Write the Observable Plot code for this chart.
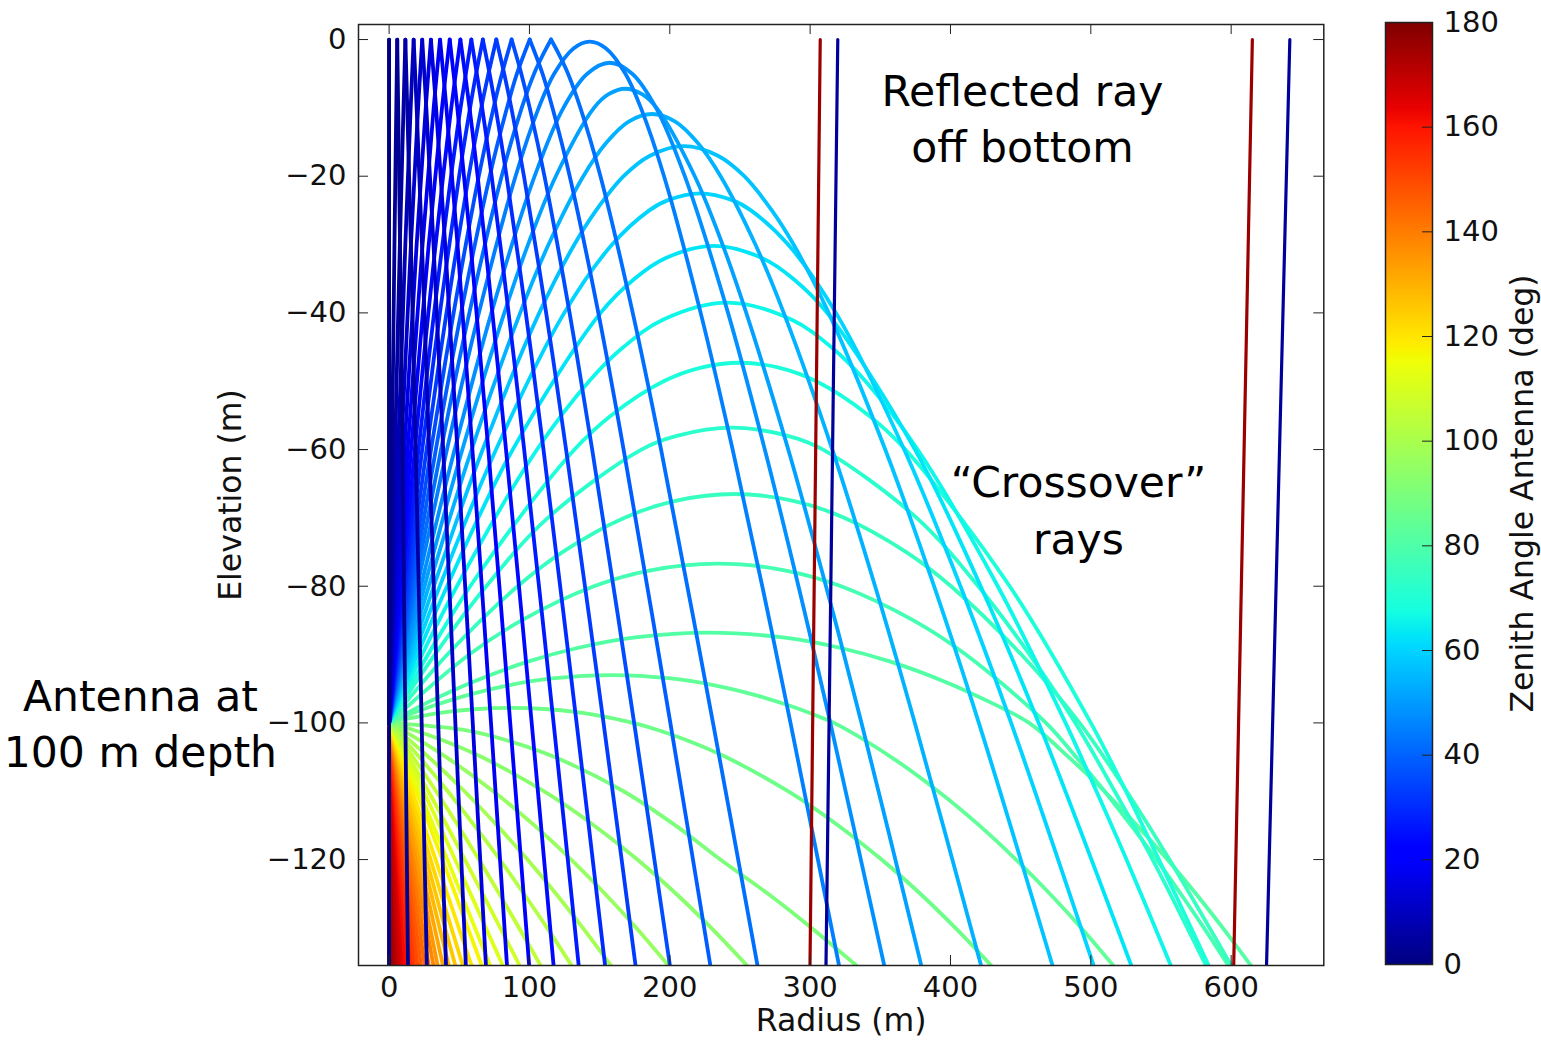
<!DOCTYPE html>
<html><head><meta charset="utf-8">
<script src="https://cdn.jsdelivr.net/npm/d3@7"></script>
<script src="https://cdn.jsdelivr.net/npm/@observablehq/plot@0.6"></script>
<style>
body{margin:0;background:#fff;}
#wrap{position:relative;width:1541px;height:1046px;overflow:hidden;background:#fff;}
#main,#cbar{position:absolute;left:0;top:0;}
</style></head><body><div id="wrap"><div id="main"></div><div id="cbar"></div></div>
<script>
// ---- axes / ticks ----
const xTicks = [0, 100, 200, 300, 400, 500, 600];
const yTicks = [-120, -100, -80, -60, -40, -20, 0];
const cbarTicks = [0, 20, 40, 60, 80, 100, 120, 140, 160, 180];
// jet colour map stops (zenith angle, deg)
const jetStops = [0, 19.8, 22.5, 61.2, 63, 67.5, 115.2, 117, 118.8, 160.2, 163.8, 180];
const jetColors = ["#000080", "#0000ff", "#0000ff", "#00dbff", "#00e6f7", "#15ffe2", "#efff08", "#f7f600", "#ffec00", "#ff1300", "#e80000", "#800000"];

// ---- rays that reach the surface and reflect: [zenith, up branch, down branch] ----
const surfaceRays = [
  [0, [[0,-100],[0,0]], [[0,0],[0,-135.5]]],
  [3, [[0,-100],[2.13,-60],[3.82,-30],[5.8,0]], [[5.8,0],[7.78,-30],[9.47,-60],[11.6,-100],[13.45,-135.5]]],
  [6, [[0,-100],[4.27,-60],[7.68,-30],[11.6,0]], [[11.6,0],[15.52,-30],[18.93,-60],[23.2,-100],[26.9,-135.5]]],
  [9, [[0,-100],[6.44,-60],[11.57,-30],[15.37,-10],[17.5,0]], [[17.5,0],[19.63,-10],[23.43,-30],[28.56,-60],[35.0,-100],[40.55,-135.5]]],
  [12, [[0,-100],[8.65,-60],[15.55,-30],[20.67,-10],[23.6,0]], [[23.6,0],[26.53,-10],[31.65,-30],[38.55,-60],[47.2,-100],[54.7,-135.5]]],
  [15, [[0,-100],[10.91,-60],[19.63,-30],[26.12,-10],[29.8,0]], [[29.8,0],[33.48,-10],[39.97,-30],[48.69,-60],[59.6,-100],[69.0,-135.5]]],
  [18, [[0,-100],[13.24,-60],[23.84,-30],[31.77,-10],[36.3,0]], [[36.3,0],[40.83,-10],[48.76,-30],[59.36,-60],[72.6,-100],[84.0,-135.5]]],
  [21, [[0,-100],[15.65,-60],[28.23,-30],[37.69,-10],[43.2,0]], [[43.2,0],[48.6,-10],[58.1,-30],[70.7,-60],[86.3,-100],[99.8,-135.5]]],
  [24, [[0,-100],[18.3,-60],[28.0,-40],[38.5,-20],[44.3,-10],[50.8,0]], [[50.8,0],[57.3,-10],[63.1,-20],[73.6,-40],[83.3,-60],[101.6,-100],[117.2,-135.5]]],
  [27, [[0,-100],[20.96,-60],[32.06,-40],[44.12,-20],[50.9,-10],[58.6,0]], [[58.6,0],[66.3,-10],[73.08,-20],[85.14,-40],[96.24,-60],[117.2,-100],[135.1,-135.5]]],
  [30, [[0,-100],[23.6,-60],[36.2,-40],[49.9,-20],[57.7,-10],[62.0,-5],[66.8,0]], [[66.8,0],[71.6,-5],[75.9,-10],[83.7,-20],[97.4,-40],[110.0,-60],[133.6,-100],[153.9,-135.5]]],
  [33, [[0,-100],[26.7,-60],[40.9,-40],[56.7,-20],[65.7,-10],[70.8,-5],[76.4,0]], [[76.4,0],[82.0,-5],[87.1,-10],[96.1,-20],[111.9,-40],[126.1,-60],[152.8,-100],[175.6,-135.5]]],
  [36, [[0,-100],[29.9,-60],[46.0,-40],[63.9,-20],[74.4,-10],[80.4,-5],[87.3,0]], [[87.3,0],[94.2,-5],[100.2,-10],[110.7,-20],[128.6,-40],[144.7,-60],[174.6,-100],[200.1,-135.5]]],
  [39, [[0,-100],[33.3,-60],[51.3,-40],[71.7,-20],[84.0,-10],[91.1,-5],[100.2,0]], [[100.2,0],[109.3,-5],[116.4,-10],[128.7,-20],[149.1,-40],[167.1,-60],[200.4,-100],[228.9,-135.5]]],
  [42, [[0,-100],[37.0,-60],[57.2,-40],[80.2,-20],[94.5,-10],[103.3,-5],[110.2,-2],[115.4,0]], [[115.4,0],[120.6,-2],[127.5,-5],[136.3,-10],[150.6,-20],[173.6,-40],[193.8,-60],[230.8,-100],[262.5,-135.5]]]
];

// ---- rays that turn over below the surface: [zenith, path] ----
const turningRays = [
  [45, [[0,-100],[20.1,-80],[41.2,-60],[64.0,-40],[90.1,-20],[106.6,-10],[117.6,-5],[131.4,-1.3],[143,-0.3],[154.6,-1.3],[168.4,-5],[179.4,-10],[195.9,-20],[222,-40],[244.8,-60],[265.9,-80],[286,-100],[320.6,-135.5]]],
  [48, [[0,-100],[22.7,-80],[46.7,-60],[72.9,-40],[103.7,-20],[124.2,-10],[141.2,-5],[157.2,-3.4],[173.2,-5],[190.2,-10],[210.7,-20],[241.5,-40],[267.7,-60],[291.7,-80],[314.4,-100],[352.8,-135.5]]],
  [51, [[0,-100],[25.3,-80],[52.2,-60],[82.1,-40],[99.0,-30],[118.8,-20],[146.0,-10],[156.4,-8],[168.3,-7.2],[180.2,-8],[190.6,-10],[217.8,-20],[237.6,-30],[254.5,-40],[284.4,-60],[311.3,-80],[336.6,-100],[379.2,-135.5]]],
  [54, [[0,-100],[28.3,-80],[58.8,-60],[93.4,-40],[113.6,-30],[138.4,-20],[155.2,-15],[170.7,-12],[187.3,-10.9],[203.9,-12],[219.4,-15],[236.2,-20],[261,-30],[281.2,-40],[315.8,-60],[346.3,-80],[374.6,-100],[421.8,-135.5]]],
  [57, [[0,-100],[31.9,-80],[66.7,-60],[107,-40],[132,-30],[147.5,-25],[167.1,-20],[185.9,-17],[210.1,-15.6],[234.3,-17],[253.1,-20],[272.7,-25],[288.2,-30],[313.2,-40],[353.5,-60],[388.3,-80],[420.2,-100],[472.7,-135.5]]],
  [60, [[0,-100],[36.1,-80],[76.2,-60],[124.8,-40],[158.9,-30],[185.4,-25],[198.7,-23.5],[221.6,-22.5],[244.5,-23.5],[257.8,-25],[284.3,-30],[318.4,-40],[367,-60],[407.1,-80],[443.2,-100],[502,-135.5]]],
  [63, [[0,-100],[41.3,-80],[88.1,-60],[150.7,-40],[174.9,-35],[196.8,-32],[231.4,-30.2],[266,-32],[287.9,-35],[312.1,-40],[374.7,-60],[421.5,-80],[462.8,-100],[528.8,-135.5]]],
  [66, [[0,-100],[48.3,-80],[105.4,-60],[142.5,-50],[167,-45],[195.1,-41],[241,-38.5],[286.9,-41],[315,-45],[339.5,-50],[376.6,-60],[433.7,-80],[482,-100],[504,-110],[525.4,-120],[557,-135.5]]],
  [69, [[0,-100],[57.8,-80],[132.1,-60],[158.2,-55],[195.6,-50],[222.3,-48],[250,-47.3],[277.7,-48],[304.4,-50],[341.8,-55],[367.9,-60],[442.2,-80],[500,-100],[525,-110],[548.5,-120],[584,-135.5]]],
  [72, [[0,-100],[32.6,-90],[69.2,-80],[113.1,-70],[179.8,-60],[204.9,-58],[244.5,-56.8],[284.1,-58],[309.2,-60],[375.9,-70],[419.8,-80],[456.4,-90],[489,-100],[517,-110],[544,-120],[582,-135.5]]],
  [75, [[0,-100],[41.5,-90],[91.6,-80],[123.5,-75],[167.4,-70],[204,-67.5],[246,-66.5],[288,-67.5],[324.6,-70],[368.5,-75],[400.4,-80],[450.5,-90],[492,-100],[525.5,-110],[556,-120],[600,-135.5]]],
  [78, [[0,-100],[57.1,-90],[94.4,-85],[145.9,-80],[185.4,-77.7],[234,-76.7],[282.6,-77.7],[322.1,-80],[373.6,-85],[410.9,-90],[468,-100],[489.5,-105],[509.8,-110],[528.7,-115],[546.9,-120],[564,-125],[580.6,-130],[598,-135.5]]],
  [81, [[0,-100],[27.5,-97],[59.6,-94],[99.4,-91],[134.9,-89],[175.5,-87.5],[228,-86.8],[280.5,-87.5],[321.1,-89],[356.6,-91],[396.4,-94],[428.5,-97],[456,-100],[484.2,-105],[509.7,-110],[532.9,-115],[554.6,-120],[574.9,-125],[594,-130],[614,-135.5]]],
  [84, [[0,-100],[11.8,-99],[31.4,-97.5],[54.7,-96],[85.1,-94.5],[116.1,-93.5],[158.5,-93],[200.9,-93.5],[231.9,-94.5],[262.3,-96],[285.6,-97.5],[305.2,-99],[317,-100],[357.7,-105],[391.2,-110],[420.5,-115],[446.7,-120],[470.8,-125],[493.2,-130],[516,-135.5]]],
  [87, [[0,-100],[10.5,-99.5],[22.7,-99],[41.6,-98.4],[60.8,-98],[87,-97.8],[113.2,-98],[132.4,-98.4],[151.3,-99],[163.5,-99.5],[174,-100],[190.9,-101],[211.7,-102.5],[240,-105],[284.2,-110],[320,-115],[350.9,-120],[378.5,-125],[403.5,-130],[429,-135.5]]],
  [90, [[0,-100],[52,-101],[83,-102.5],[118,-105],[167,-110],[204,-115],[236,-120],[270,-125],[301,-130],[333,-135.5]]]
];

// ---- rays launched downward: [zenith, path] ----
const downwardRays = [
  [93, [[0,-100],[16.9,-101],[37.7,-102.5],[66,-105],[110.2,-110],[146,-115],[176.9,-120],[204.5,-125],[229.5,-130],[255,-135.5]]],
  [96, [[0,-100],[17.4,-102],[40.7,-105],[74.2,-110],[103.5,-115],[129.7,-120],[153.8,-125],[176.2,-130],[199,-135.5]]],
  [99, [[0,-100],[28.2,-105],[53.7,-110],[76.9,-115],[98.6,-120],[118.9,-125],[138,-130],[158,-135.5]]],
  [102, [[0,-100],[21.5,-105],[41.8,-110],[60.7,-115],[78.9,-120],[96,-125],[112.6,-130],[130,-135.5]]],
  [105, [[0,-100],[33.5,-110],[64,-120],[108,-135.5]]],
  [108, [[0,-100],[28,-110],[54,-120],[93,-135.5]]],
  [111, [[0,-100],[24.5,-110],[47,-120],[81,-135.5]]],
  [114, [[0,-100],[21.3,-110],[41.5,-120],[72,-135.5]]],
  [117, [[0,-100],[19.3,-110],[38.0,-120],[66.0,-135.5]]],
  [120, [[0,-100],[58.8,-135.5]]],
  [123, [[0,-100],[52.5,-135.5]]],
  [126, [[0,-100],[47.2,-135.5]]],
  [129, [[0,-100],[42.6,-135.5]]],
  [132, [[0,-100],[38.4,-135.5]]],
  [135, [[0,-100],[34.6,-135.5]]],
  [138, [[0,-100],[31.6,-135.5]]],
  [141, [[0,-100],[28.3,-135.5]]],
  [144, [[0,-100],[25.4,-135.5]]],
  [147, [[0,-100],[22.7,-135.5]]],
  [150, [[0,-100],[20.2,-135.5]]],
  [153, [[0,-100],[17.8,-135.5]]],
  [156, [[0,-100],[15.6,-135.5]]],
  [159, [[0,-100],[13.5,-135.5]]],
  [162, [[0,-100],[11.4,-135.5]]],
  [165, [[0,-100],[9.4,-135.5]]],
  [168, [[0,-100],[7.5,-135.5]]],
  [171, [[0,-100],[5.6,-135.5]]],
  [174, [[0,-100],[3.7,-135.5]]],
  [177, [[0,-100],[1.85,-135.5]]],
  [180, [[0,-100],[0,-135.5]]]
];

// ---- rays reflected off the bottom: [zenith colour, path] ----
const bottomRays = [
  [176, [[299.9,-135.5],[307.2,0]]],
  [4, [[311.3,-135.5],[319.7,0]]],
  [176, [[601.8,-135.5],[615.1,0]]],
  [4, [[625.2,-135.5],[641.8,0]]]
];

// ---- annotations ----
const noteText = ["Reflected ray\noff bottom", "\u201cCrossover\u201d\nrays", "Antenna at\n100 m depth"];
const noteX = [451.3, 491.2, -177.2];
const noteY = [-11.2, -68.5, -99.7];

// ---- build tidy tables ----
const segments = [];
surfaceRays.forEach(([t, up, down], i) => {
  segments.push({theta: t, id: `s${i}u`, pts: up});
  segments.push({theta: t, id: `s${i}d`, pts: down});
});
turningRays.forEach(([t, p], i) => segments.push({theta: t, id: `t${i}`, pts: p}));
downwardRays.forEach(([t, p], i) => segments.push({theta: t, id: `d${i}`, pts: p}));
segments.sort((a, b) => b.theta - a.theta);
const rows = segments.flatMap(s => s.pts.map(([x, y]) => ({id: s.id, theta: s.theta, x, y})));
const bottomRows = bottomRays.flatMap(([t, p], i) => p.map(([x, y]) => ({id: "b" + i, theta: t, x, y})));
const notes = noteText.map((text, i) => ({text, x: noteX[i], y: noteY[i]}));

const fmt = d => d < 0 ? "\u2212" + (-d) : String(d);
const colorScale = {type: "linear", domain: jetStops, range: jetColors, interpolate: "rgb"};
const W = 1541, H = 1046;
const mL = 358, mR = 217.7, mT = 24, mB = 81;
const pw = W - mL - mR, ph = H - mT - mB;

const main = Plot.plot({
  width: W, height: H,
  marginLeft: mL, marginRight: mR, marginTop: mT, marginBottom: mB,
  x: {domain: [-21.8, 666]},
  y: {domain: [-135.5, 2.2]},
  color: colorScale,
  style: {fontFamily: "DejaVu Sans", fontSize: "29px", color: "#111", background: "white"},
  marks: [
    Plot.line(rows, {x: "x", y: "y", z: "id", stroke: "theta", strokeWidth: 3.8, curve: "catmull-rom", clip: true}),
    Plot.line(bottomRows, {x: "x", y: "y", z: "id", stroke: "theta", strokeWidth: 3.2, clip: true}),
    Plot.tickX(xTicks, {x: d => d, insetTop: ph - 10, stroke: "#222"}),
    Plot.tickX(xTicks, {x: d => d, insetBottom: ph - 10, stroke: "#222"}),
    Plot.tickY(yTicks, {y: d => d, insetRight: pw - 10, stroke: "#222"}),
    Plot.tickY(yTicks, {y: d => d, insetLeft: pw - 10, stroke: "#222"}),
    Plot.frame({stroke: "#222", strokeWidth: 1.5}),
    Plot.axisX({ticks: xTicks, tickSize: 0, tickPadding: 11, tickFormat: fmt, label: null}),
    Plot.axisY({ticks: yTicks, tickSize: 0, tickPadding: 12, tickFormat: fmt, label: null}),
    Plot.text(["Radius (m)"], {frameAnchor: "bottom", textAnchor: "middle", dy: 65, fontSize: 31.5}),
    Plot.text(["Elevation (m)"], {frameAnchor: "left", textAnchor: "middle", dx: -128, rotate: -90, fontSize: 31.5}),
    Plot.text(notes, {x: "x", y: "y", text: "text", fontSize: 42.5, lineHeight: 1.33, fill: "black", fontFamily: "DejaVu Sans"})
  ]
});
document.getElementById("main").append(main);

// ---- colour bar ----
const cL = 1385, cR = 1432, cT = 22, cB = 964;
const cbar = Plot.plot({
  width: W, height: H,
  marginLeft: cL, marginRight: W - cR, marginTop: cT, marginBottom: H - cB,
  x: {domain: [0, 1], axis: null},
  y: {domain: [0, 180]},
  color: colorScale,
  style: {fontFamily: "DejaVu Sans", fontSize: "29px", color: "#111", background: "transparent"},
  marks: [
    Plot.raster({x1: 0, x2: 1, y1: 0, y2: 180, width: 1, height: 720, fill: (x, y) => y, imageRendering: "auto"}),
    Plot.tickY(cbarTicks, {y: d => d, insetLeft: (cR - cL) - 10, stroke: "#222"}),
    Plot.frame({stroke: "#222", strokeWidth: 1.5}),
    Plot.axisY({ticks: cbarTicks, anchor: "right", tickSize: 0, tickPadding: 11, label: null}),
    Plot.text(["Zenith Angle Antenna (deg)"], {frameAnchor: "right", textAnchor: "middle", dx: 90, dy: 0, rotate: -90, fontSize: 31.5})
  ]
});
cbar.style.pointerEvents = "none";
document.getElementById("cbar").append(cbar);
</script>
</body></html>
